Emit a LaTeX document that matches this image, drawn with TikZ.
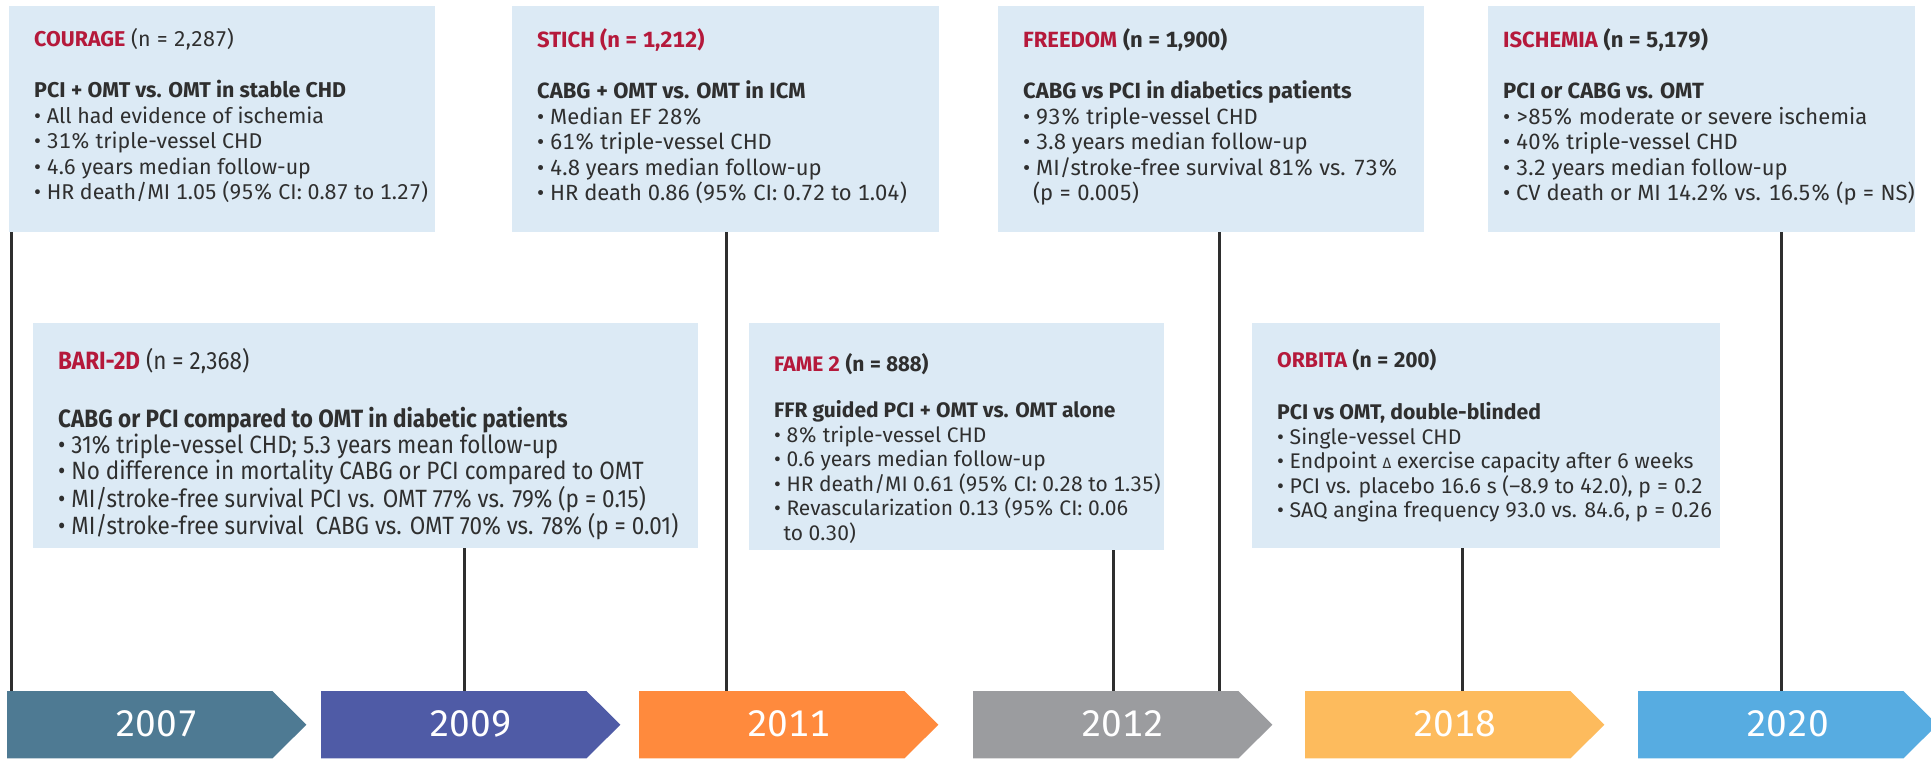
\documentclass[tikz,border=0pt]{standalone}
\usepackage{fontspec}
\newfontfamily\trialfont[Numbers=Monospaced]{Fira Sans}
\newfontfamily\trialcond[FakeStretch=0.9]{Fira Sans}
\usetikzlibrary{positioning}

\definecolor{boxblue}{HTML}{DCEAF5}
\definecolor{trialred}{HTML}{B5193B}
\definecolor{txtgray}{HTML}{2F2F2F}
\definecolor{stemgray}{HTML}{2E2E2E}
\definecolor{c2007}{HTML}{4E7A93}
\definecolor{c2009}{HTML}{4F5BA6}
\definecolor{c2011}{HTML}{FF8A3D}
\definecolor{c2012}{HTML}{9B9C9F}
\definecolor{c2018}{HTML}{FDBB5D}
\definecolor{c2020}{HTML}{57ACE1}

\newcommand{\trialname}[1]{{\color{trialred}\bfseries #1}}

\tikzset{
    trialbox/.style={fill=boxblue, inner sep=0pt, anchor=north west, minimum width=#1},
    trialtxt/.style={inner sep=0pt, anchor=north west, align=left, text=txtgray,
        font=\trialfont\fontsize{22}{25.5}\selectfont},
    stem/.style={draw=stemgray, line width=3pt},
    yearbox/.style={minimum width=299pt, minimum height=67pt, inner sep=0pt, anchor=north west},
    yeartxt/.style={text=white, inner sep=0pt, font=\trialfont\fontsize{37}{37}\selectfont}
}

\begin{document}
\begin{tikzpicture}[x=1pt, y=-1pt]
    \useasboundingbox (0,0) rectangle (1931,758);
    \clip (0,0) rectangle (1931,758);

    % year arrows along the bottom
    \foreach \yr/\xa in {2007/7, 2009/321, 2011/639, 2012/973, 2018/1305, 2020/1638} {
        \node[yearbox] (y\yr) at (\xa,691) {};
        \fill[c\yr] (y\yr.north west) -- ([xshift=-34pt]y\yr.north east) -- (y\yr.east)
            -- ([xshift=-34pt]y\yr.south east) -- (y\yr.south west) -- cycle;
        \node[yeartxt] (t\yr) at ([yshift=1pt]y\yr.center) {\yr};
    }

    % top row
    \node[trialbox=426pt, minimum height=226pt] (courage) at (9,6) {};
    \node[trialtxt, font=\trialfont\fontsize{21.4}{25.5}\selectfont] (couragetxt) at ([shift={(25,22)}]courage.north west) {\trialname{COURAGE} (n = 2,287)\\[26pt]
        {\bfseries PCI + OMT vs. OMT in stable CHD}\\
        • All had evidence of ischemia\\
        • 31\% triple-vessel CHD\\
        • 4.6 years median follow-up\\
        • HR death/MI 1.05 (95\% CI: 0.87 to 1.27)};

    \node[trialbox=427pt, minimum height=226pt] (stich) at (512,6) {};
    \node[trialtxt] (stichtxt) at ([shift={(25,22)}]stich.north west) {\trialname{STICH (n = 1,212)}\\[26pt]
        {\bfseries CABG + OMT vs. OMT in ICM}\\
        • Median EF 28\%\\
        • 61\% triple-vessel CHD\\
        • 4.8 years median follow-up\\
        • HR death 0.86 (95\% CI: 0.72 to 1.04)};

    \node[trialbox=426pt, minimum height=226pt] (freedom) at (998,6) {};
    \node[trialtxt] (freedomtxt) at ([shift={(25,22)}]freedom.north west) {\trialname{FREEDOM} {\bfseries (n = 1,900)}\\[26pt]
        {\bfseries CABG vs PCI in diabetics patients}\\
        • 93\% triple-vessel CHD\\
        • 3.8 years median follow-up\\
        • MI/stroke-free survival 81\% vs. 73\%\\
        \hspace*{0.45em}(p = 0.005)};

    \node[trialbox=427pt, minimum height=226pt] (ischemia) at (1488,6) {};
    \node[trialtxt] (ischemiatxt) at ([shift={(15,22)}]ischemia.north west) {\trialname{ISCHEMIA} {\bfseries (n = 5,179)}\\[26pt]
        {\bfseries PCI or CABG vs. OMT}\\
        • >85\% moderate or severe ischemia\\
        • 40\% triple-vessel CHD\\
        • 3.2 years median follow-up\\
        • CV death or MI 14.2\% vs. 16.5\% (p = NS)};

    % bottom row
    \node[trialbox=665pt, minimum height=225pt] (bari) at (33,323) {};
    \node[trialtxt, font=\trialcond\fontsize{25}{24}\selectfont] (baritxt) at ([shift={(25,25)}]bari.north west) {\trialname{BARI-2D} (n = 2,368)\\[33pt]
        {\bfseries CABG or PCI compared to OMT in diabetic patients}\\
        • 31\% triple-vessel CHD; 5.3 years mean follow-up\\
        • No difference in mortality CABG or PCI compared to OMT\\
        • MI/stroke-free survival PCI vs. OMT 77\% vs. 79\% (p = 0.15)\\
        • MI/stroke-free survival \ CABG vs. OMT 70\% vs. 78\% (p = 0.01)};

    \node[trialbox=415pt, minimum height=227pt] (fame) at (749,323) {};
    \node[trialtxt, font=\trialfont\fontsize{21}{24.5}\selectfont] (frametxt) at ([shift={(25,30)}]fame.north west) {\trialname{FAME 2} {\bfseries (n = 888)}\\[22pt]
        {\bfseries FFR guided PCI + OMT vs. OMT alone}\\
        • 8\% triple-vessel CHD\\
        • 0.6 years median follow-up\\
        • HR death/MI 0.61 (95\% CI: 0.28 to 1.35)\\
        • Revascularization 0.13 (95\% CI: 0.06\\
        \hspace*{0.45em}to 0.30)};

    \node[trialbox=468pt, minimum height=225pt] (orbita) at (1252,323) {};
    \node[trialtxt, font=\trialfont\fontsize{21.2}{24.5}\selectfont] (orbitatxt) at ([shift={(25,26)}]orbita.north west) {\trialname{ORBITA} {\bfseries (n = 200)}\\[28pt]
        {\bfseries PCI vs OMT, double-blinded}\\
        • Single-vessel CHD\\
        • Endpoint {\fontsize{15}{15}\selectfont Δ} exercise capacity after 6 weeks\\
        • PCI vs. placebo 16.6 s (–8.9 to 42.0), p = 0.2\\
        • SAQ angina frequency 93.0 vs. 84.6, p = 0.26};

    % stems from each trial down to its year
    \foreach \src/\dst/\xs in {courage/y2007/11, bari/y2009/464, stich/y2011/726, fame/y2012/1113,
            freedom/y2012/1219, orbita/y2018/1462, ischemia/y2020/1781} {
        \draw[stem] (\src.south -| \xs,0) -- (\dst.north -| \xs,0);
    }
\end{tikzpicture}
\end{document}
